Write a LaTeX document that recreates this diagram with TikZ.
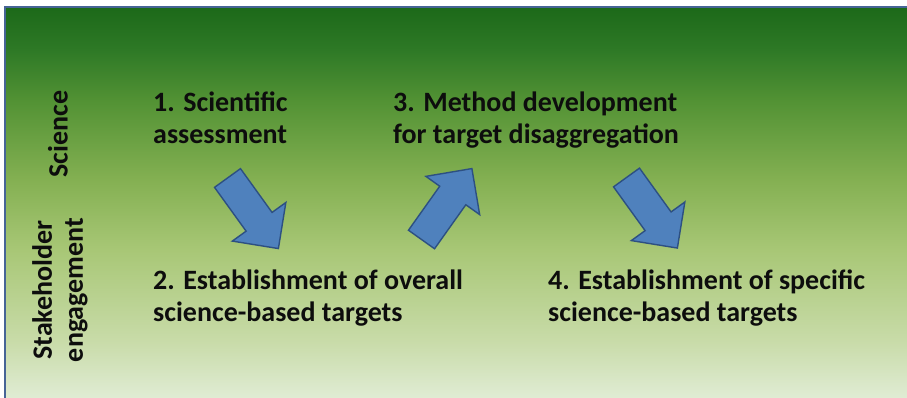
\documentclass[tikz,border=0pt]{standalone}
\usepackage{fontspec}
\setmainfont{Carlito}
\definecolor{framecol}{RGB}{70,100,150}
\definecolor{arrowfill}{RGB}{79,129,189}
\definecolor{arrowline}{RGB}{45,80,130}
\definecolor{g0}{RGB}{224,236,212}
\definecolor{g1}{RGB}{200,219,168}
\definecolor{g2}{RGB}{168,199,118}
\definecolor{g3}{RGB}{132,176,82}
\definecolor{g4}{RGB}{82,146,52}
\definecolor{g5}{RGB}{46,121,38}
\definecolor{g6}{RGB}{28,105,25}
\pgfdeclareverticalshading{bggreen}{100bp}{color(0bp)=(g0); color(25bp)=(g0); color(32.4bp)=(g1); color(43.9bp)=(g2); color(52.9bp)=(g3); color(63.1bp)=(g4); color(69.5bp)=(g5); color(75bp)=(g6); color(100bp)=(g6)}
\tikzset{
  lbl/.style={font=\bfseries\fontsize{28}{32.5}\selectfont, text=black!95, align=left, inner sep=0pt},
  sidelbl/.style={font=\bfseries\fontsize{28}{31}\selectfont, text=black!95, align=center, inner sep=0pt, rotate=90},
  barrowstyle/.style={fill=arrowfill, draw=arrowline, line width=1.4pt, line join=miter},
  bluearrow/.pic={\draw[barrowstyle] (0,-16) -- (54,-16) -- (54,-33) -- (87,0) -- (54,33) -- (54,16) -- (0,16) -- cycle;}
}
\begin{document}
\begin{tikzpicture}[x=1pt,y=1pt]
\useasboundingbox (0,0) rectangle (907,398);
\fill[white] (0,0) rectangle (907,398);
\begin{scope}
\clip (0,0) rectangle (907,398);
\shade[shading=bggreen] (5,0) rectangle (915,391);
\draw[framecol, line width=2.5pt] (5,-10) rectangle (920,391);
\end{scope}
% side labels
\node[sidelbl] (sci) at (58,264) {Science};
\node[sidelbl] (stake) at (60,108) {Stakeholder\\engagement};
% step texts (base anchor = baseline of last line)
\node[lbl, anchor=base west] (s1) at (153,254) {1. Scientific\\assessment};
\node[lbl, anchor=base west] (s3) at (393,254) {3. Method development\\for target disaggregation};
\node[lbl, anchor=base west] (s2) at (153,76) {2. Establishment of overall\\science-based targets};
\node[lbl, anchor=base west] (s4) at (548,76) {4. Establishment of specific\\science-based targets};
% block arrows
\pic[rotate=-54.2] (a1) at (227.5,220) {bluearrow};
\pic[rotate=54.6] (a2) at (421.5,158.5) {bluearrow};
\pic[rotate=-54.2] (a3) at (626.5,220.5) {bluearrow};
\end{tikzpicture}
\end{document}
